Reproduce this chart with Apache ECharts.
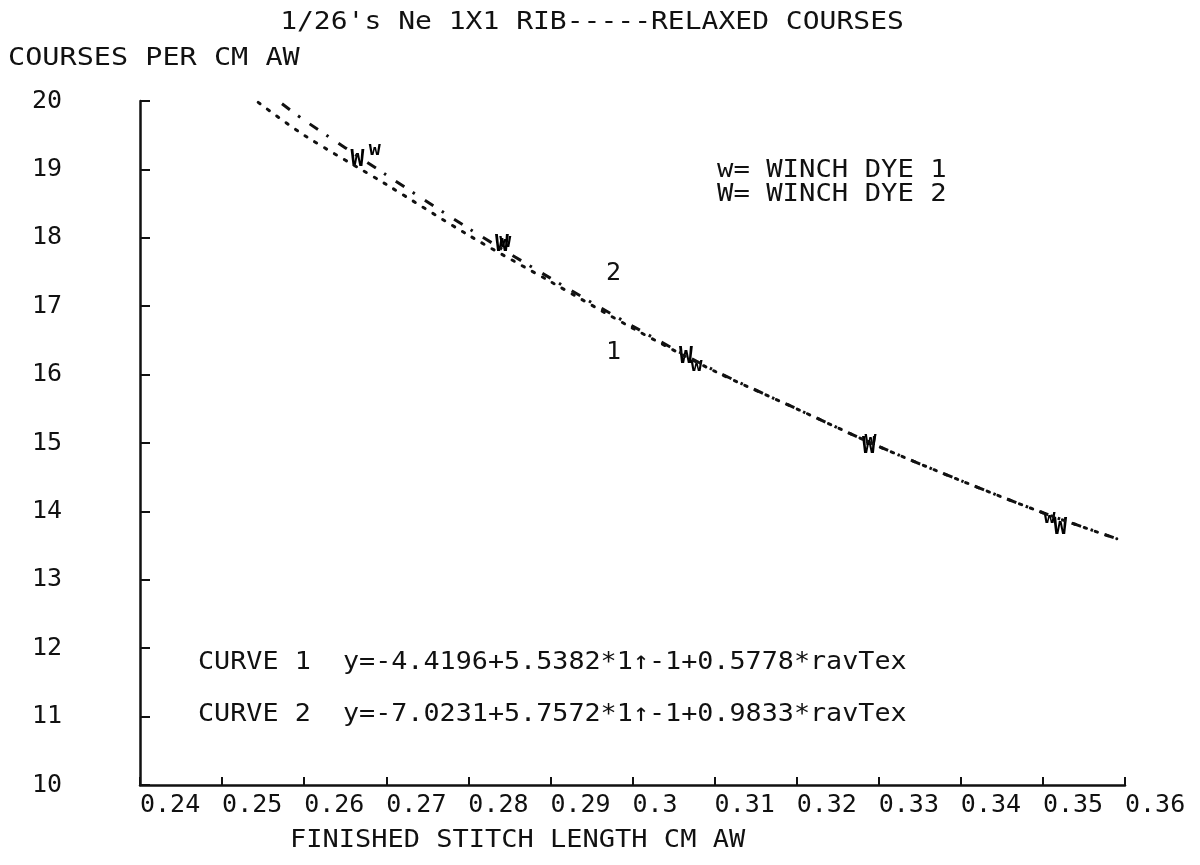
<!DOCTYPE html>
<html>
<head>
<meta charset="utf-8">
<script src="https://cdn.jsdelivr.net/npm/echarts@6/dist/echarts.min.js"></script>
<style>
html,body{margin:0;padding:0;background:#fff;}
#main{width:1200px;height:865px;}
</style>
</head>
<body>
<div id="main"></div>
<script>
// ---- data ----
const xTickLabels = ['0.24','0.25','0.26','0.27','0.28','0.29','0.3','0.31','0.32','0.33','0.34','0.35','0.36'];
const yTickLabels = ['10','11','12','13','14','15','16','17','18','19','20'];

// curve 1 (dotted)
const curve1X = [0.2544,0.260,0.270,0.280,0.290,0.300,0.310,0.320,0.330,0.340,0.350,0.359];
const curve1Y = [19.98,19.50,18.78,18.04,17.36,16.68,16.05,15.50,14.95,14.45,13.98,13.60];
// curve 2 (dash-dot)
const curve2X = [0.2573,0.260,0.270,0.280,0.290,0.300,0.310,0.320,0.330,0.340,0.350,0.359];
const curve2Y = [19.96,19.72,18.92,18.14,17.41,16.71,16.06,15.50,14.95,14.45,13.98,13.60];

// observed points
const dye1X = [0.2686,0.2845,0.3078,0.3290,0.3508];   // w = winch dye 1
const dye1Y = [19.28,17.94,16.13,15.04,13.90];
const dye2X = [0.2665,0.2841,0.3065,0.3288,0.3521];   // W = winch dye 2
const dye2Y = [19.14,17.89,16.26,14.94,13.76];

const titleText = "1/26's Ne 1X1 RIB-----RELAXED COURSES";
const yName = 'COURSES PER CM AW';
const xName = 'FINISHED STITCH LENGTH CM AW';
const legend1 = 'w= WINCH DYE 1';
const legend2 = 'W= WINCH DYE 2';
const eq1 = 'CURVE 1  y=-4.4196+5.5382*1\u2191-1+0.5778*ravTex';
const eq2 = 'CURVE 2  y=-7.0231+5.7572*1\u2191-1+0.9833*ravTex';

const zip = (a,b) => a.map((v,i)=>[v,b[i]]);
const FONT = 'DejaVu Sans Mono';
const INK = '#111';

function txt(text, x, y, opts) {
  opts = opts || {};
  return {
    type: 'text', x: x, y: y, scaleX: opts.sx || 1.08,
    style: {
      text: text, fill: INK, font: (opts.size || 25) + 'px "' + FONT + '"',
      textAlign: opts.align || 'left', textVerticalAlign: 'middle'
    }
  };
}

const markerLabel = (ch, size) => ({
  show: true, position: 'inside', formatter: ch, color: '#000',
  fontFamily: FONT, fontSize: size, fontWeight: 'bold',
  textBorderWidth: 0, textBorderColor: 'transparent', opacity: 1
});

const chart = echarts.init(document.getElementById('main'));
chart.setOption({
  backgroundColor: '#fff',
  animation: false,
  grid: { left: 140, right: 75, top: 101, bottom: 80, containLabel: false },
  xAxis: {
    type: 'value', min: 0.24, max: 0.36, interval: 0.01,
    axisLine: { show: true, onZero: false, lineStyle: { color: INK, width: 2.5 } },
    axisTick: { show: true, inside: true, length: 8, lineStyle: { color: INK, width: 2 } },
    splitLine: { show: false },
    axisLabel: {
      show: true, margin: 8, align: 'left', color: INK,
      fontFamily: FONT, fontSize: 25,
      formatter: function (v) { return xTickLabels[Math.round((v - 0.24) / 0.01)]; }
    }
  },
  yAxis: {
    type: 'value', min: 10, max: 20, interval: 1,
    axisLine: { show: true, onZero: false, lineStyle: { color: INK, width: 2.5 } },
    axisTick: { show: true, inside: true, length: 10, lineStyle: { color: INK, width: 2 } },
    splitLine: { show: false },
    axisLabel: {
      show: true, margin: 78, color: INK, fontFamily: FONT, fontSize: 25,
      formatter: function (v) { return yTickLabels[Math.round(v - 10)]; }
    }
  },
  series: [
    {
      type: 'line', name: 'CURVE 1', data: zip(curve1X, curve1Y),
      smooth: 0.3, symbol: 'none',
      lineStyle: { color: INK, width: 3, type: [2.5, 9], cap: 'round' }
    },
    {
      type: 'line', name: 'CURVE 2', data: zip(curve2X, curve2Y),
      smooth: 0.3, symbol: 'none',
      lineStyle: { color: INK, width: 3, type: [10, 10, 2.5, 12], cap: 'butt' }
    },
    {
      type: 'scatter', name: 'WINCH DYE 2', data: zip(dye2X, dye2Y),
      symbolSize: 0, itemStyle: { color: '#000' },
      label: markerLabel('W', 23)
    },
    {
      type: 'scatter', name: 'WINCH DYE 1', data: zip(dye1X, dye1Y),
      symbolSize: 0, itemStyle: { color: '#000' },
      label: markerLabel('w', 20)
    }
  ],
  graphic: [
    txt(titleText, 592, 22, { align: 'center', sx: 1.12 }),
    txt(yName, 8, 58, { sx: 1.14 }),
    txt(xName, 290, 840, { sx: 1.08 }),
    txt(legend1, 717, 170, { sx: 1.09 }),
    txt(legend2, 717, 194, { sx: 1.09 }),
    txt('2', 606, 273, { sx: 1 }),
    txt('1', 606, 352, { sx: 1 }),
    txt(eq1, 198, 662, { sx: 1.07 }),
    txt(eq2, 198, 714, { sx: 1.07 })
  ]
});
</script>
</body>
</html>
